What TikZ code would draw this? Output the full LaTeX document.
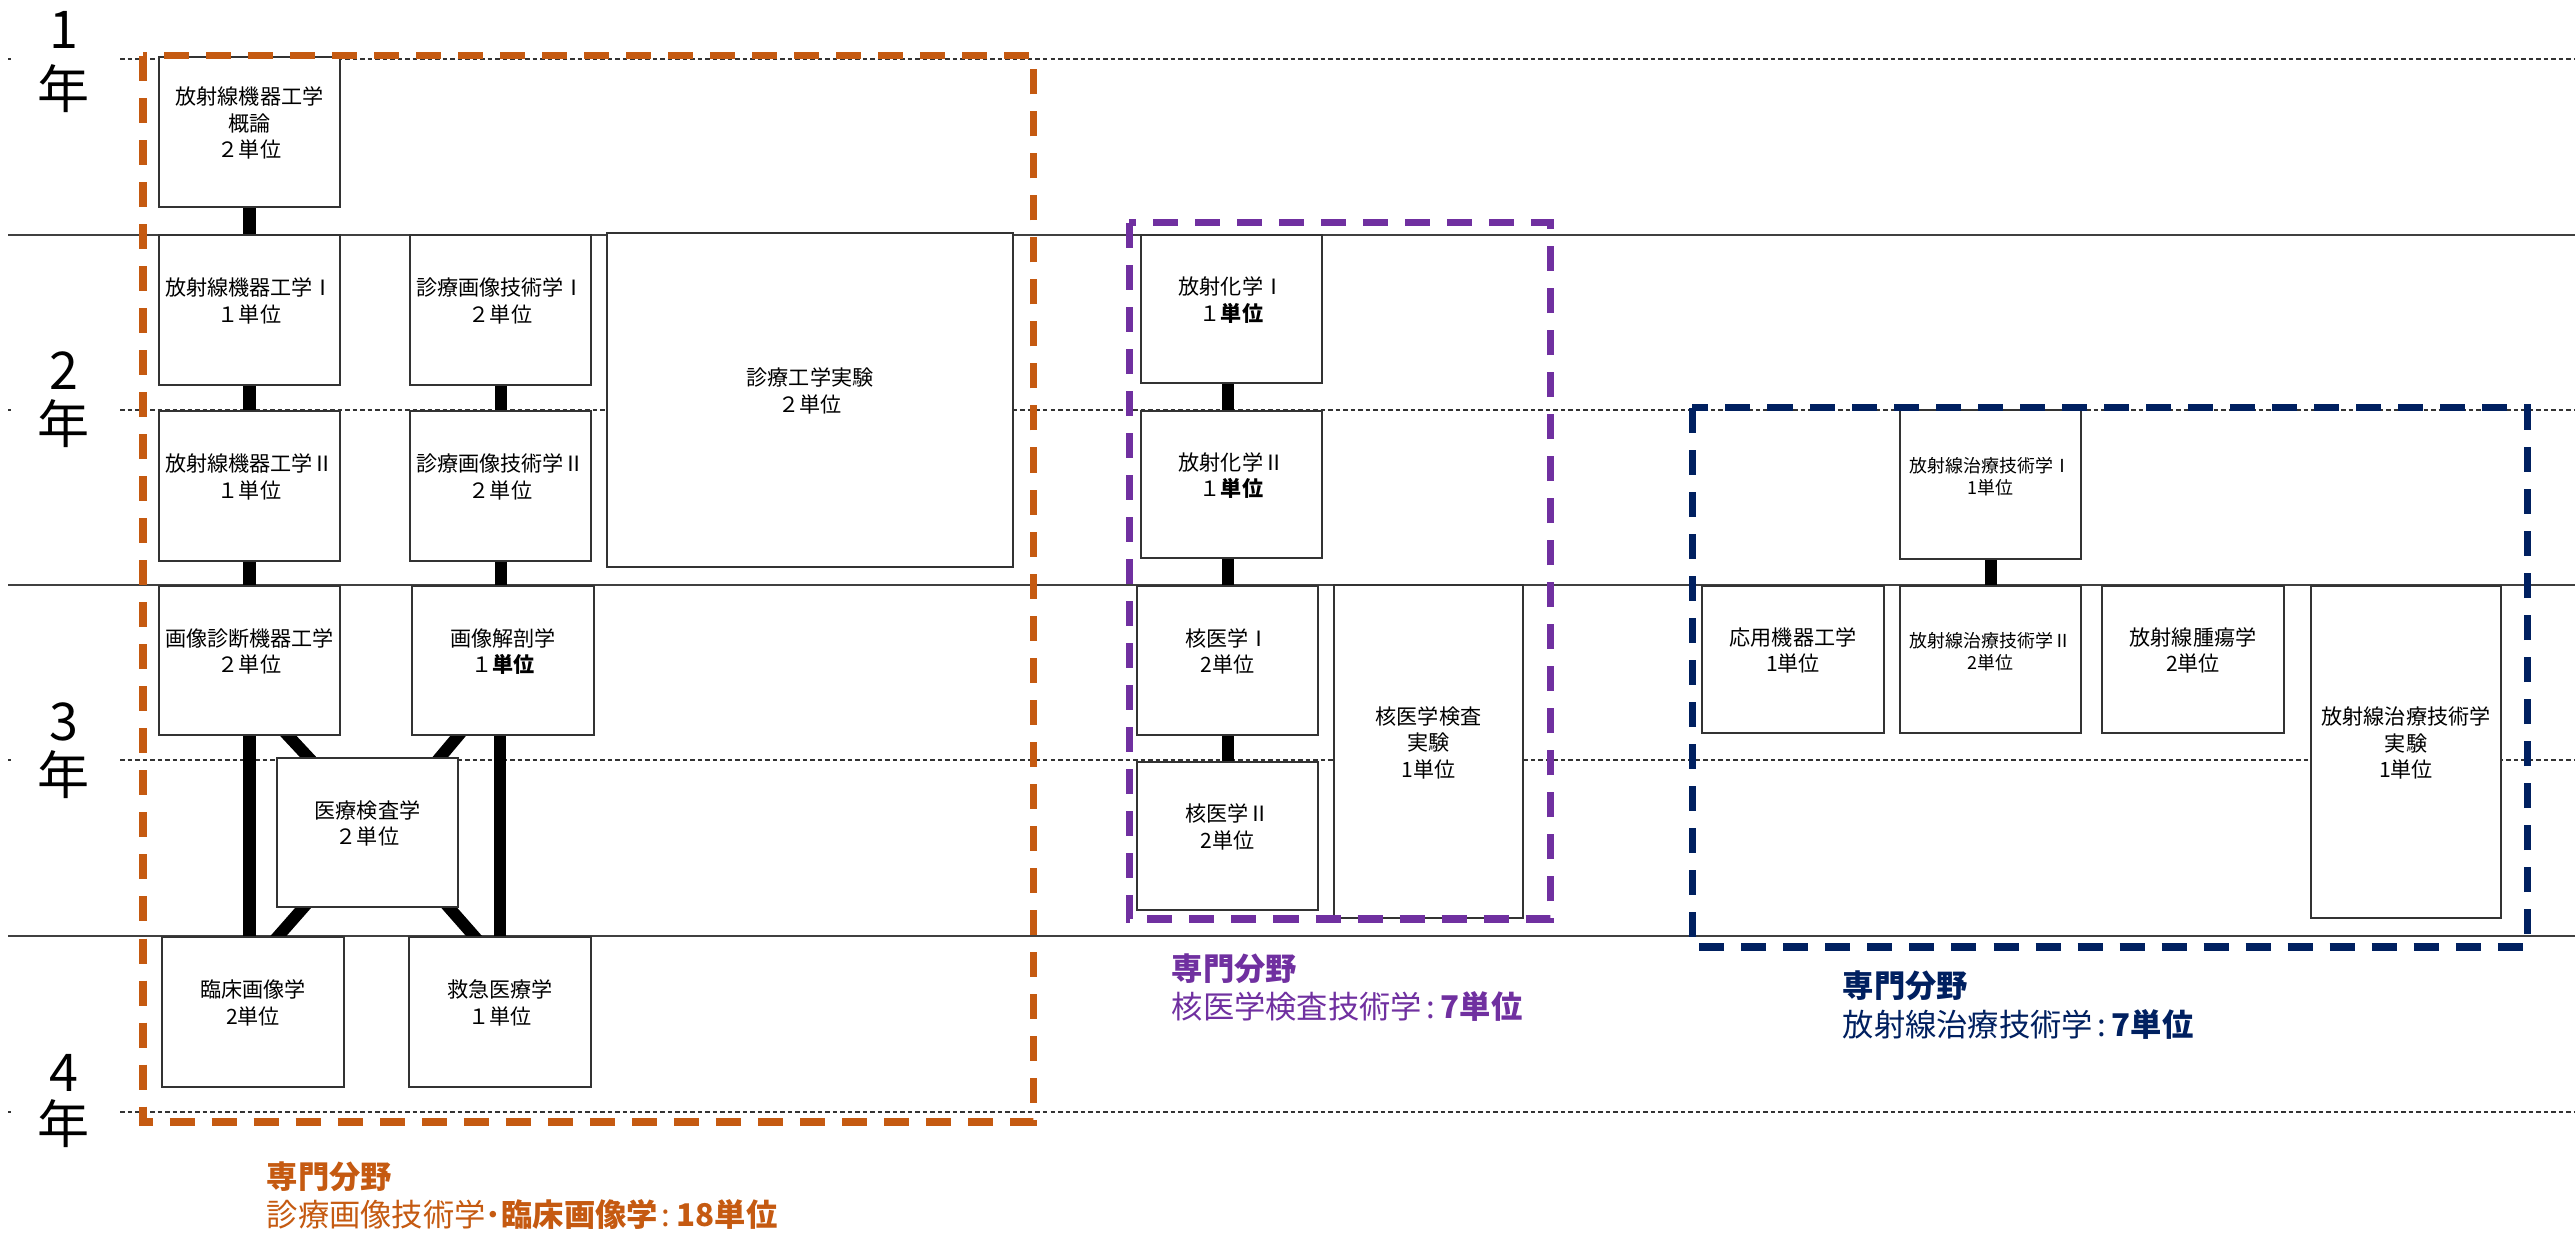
\documentclass[tikz,border=0pt]{standalone}
\usepackage{fontspec}
\setmainfont{Noto Sans CJK JP}
\usetikzlibrary{fit,calc}
\definecolor{cOrange}{HTML}{C55A11}
\definecolor{cPurple}{HTML}{7030A0}
\definecolor{cNavy}{HTML}{002060}
\pgfdeclarelayer{bg}
\pgfdeclarelayer{links}
\pgfsetlayers{bg,links,main}
\newcommand\boxfont{\fontsize{6}{7.55}\selectfont}
\newcommand\smallboxfont{\fontsize{5.1}{6.3}\selectfont}
\newcommand\yearfont{\fontsize{14.8}{17}\selectfont}
\newcommand\grpfont{\fontsize{8.9}{10.5}\selectfont}
\newcommand\gcolon{\hspace{0.04cm}:\hspace{0.06cm}}
\begin{document}
\begin{tikzpicture}[x=0.01cm,y=-0.01cm,
 course/.style={draw=black!80, line width=0.45pt, fill=white, inner sep=0pt, align=center, font=\boxfont},
 smallcourse/.style={course, font=\smallboxfont},
 link/.style={line width=0.12cm, black, shorten <=-0.05cm, shorten >=-0.05cm},
 yearline/.style={black!75, line width=0.45pt},
 halfline/.style={black!80, line width=0.013cm, dash pattern=on 0.045cm off 0.03cm},
 group/.style={line width=0.07cm, dash pattern=on 0.25cm off 0.17cm},
 yearlbl/.style={font=\yearfont, anchor=base, inner sep=0pt},
 grplbl/.style={font=\grpfont, anchor=base west, inner sep=0pt}]
\useasboundingbox (0,0) rectangle (2575,1234);
\begin{pgfonlayer}{bg}
\fill[white] (0,0) rectangle (2575,1234);
\foreach \y in {235,585,936} \draw[yearline] (8,\y) -- (2575,\y);
\foreach \y in {59,410,760,1112} {\draw[halfline] (8,\y) -- (11,\y); \draw[halfline] (120,\y) -- (2575,\y);}
\end{pgfonlayer}
% year labels
\node[yearlbl] (y1n) at (64,49) {1};
\node[yearlbl] (y1k) at (64,109) {年};
\node[yearlbl] (y2n) at (64,390) {2};
\node[yearlbl] (y2k) at (64,444) {年};
\node[yearlbl] (y3n) at (64,741) {3};
\node[yearlbl] (y3k) at (64,795) {年};
\node[yearlbl] (y4n) at (64,1091) {4};
\node[yearlbl] (y4k) at (64,1143) {年};
% orange group courses
\node[course, fit={(159,57) (340,207)}] (A) {放射線機器工学\\概論\\２単位};
\node[course, fit={(159,235) (340,385)}] (B) {放射線機器工学Ⅰ\\１単位};
\node[course, fit={(159,411) (340,561)}] (C) {放射線機器工学Ⅱ\\１単位};
\node[course, fit={(410,235) (591,385)}] (D) {診療画像技術学Ⅰ\\２単位};
\node[course, fit={(410,411) (591,561)}] (E) {診療画像技術学Ⅱ\\２単位};
\node[course, fit={(607,233) (1013,567)}] (F) {診療工学実験\\２単位};
\node[course, fit={(159,586) (340,735)}] (G) {画像診断機器工学\\２単位};
\node[course, fit={(412,586) (594,735)}] (H) {画像解剖学\\１\textbf{単位}};
\node[course, fit={(277,758) (458,907)}] (I) {医療検査学\\２単位};
\node[course, fit={(162,937) (344,1087)}] (J) {臨床画像学\\2単位};
\node[course, fit={(409,937) (591,1087)}] (K) {救急医療学\\１単位};
% purple group courses
\node[course, fit={(1141,235) (1322,383)}] (L) {放射化学Ⅰ\\１\textbf{単位}};
\node[course, fit={(1141,411) (1322,558)}] (M) {放射化学Ⅱ\\１\textbf{単位}};
\node[course, fit={(1137,586) (1318,735)}] (N) {核医学Ⅰ\\2単位};
\node[course, fit={(1137,762) (1318,910)}] (O) {核医学Ⅱ\\2単位};
\node[course, fit={(1334,585) (1523,918)}] (P) {核医学検査\\実験\\1単位};
% navy group courses
\node[smallcourse, fit={(1900,410) (2081,559)}] (Q) {放射線治療技術学Ⅰ\\1単位};
\node[course, fit={(1702,586) (1884,733)}] (R) {応用機器工学\\1単位};
\node[smallcourse, fit={(1900,586) (2081,733)}] (S) {放射線治療技術学Ⅱ\\2単位};
\node[course, fit={(2102,586) (2284,733)}] (T) {放射線腫瘍学\\2単位};
\node[course, fit={(2311,586) (2501,918)}] (U) {放射線治療技術学\\実験\\1単位};
% connectors
\begin{pgfonlayer}{links}
\draw[link] (A.south) -- (B.north);
\draw[link] (B.south) -- (C.north);
\draw[link] (C.south) -- (G.north);
\draw[link] (G.south) -- (G.south |- J.north);
\draw[link] (D.south) -- (E.north);
\draw[link] (E.south) -- (E.south |- H.north);
\draw[link] (K.north |- H.south) -- (K.north);
\draw[link] ($(G.south west)+(130,0)$) -- ($(I.north west)+(32,0)$);
\draw[link] ($(H.south west)+(47,0)$) -- ($(I.north west)+(164,0)$);
\draw[link] ($(I.south west)+(27,0)$) -- ($(J.north west)+(117,0)$);
\draw[link] ($(I.south west)+(173,0)$) -- ($(K.north west)+(66,0)$);
\draw[link] (L.south -| N.north) -- (M.north -| N.north);
\draw[link] (M.south -| N.north) -- (N.north);
\draw[link] (N.south) -- (O.north);
\draw[link] (Q.south) -- (S.north);
\end{pgfonlayer}
% group frames
\draw[group, cOrange] (143,56) rectangle (1033,1122);
\draw[group, cPurple] (1129,223) rectangle (1550,919);
\draw[group, cNavy] (1692,408) rectangle (2527,947);
% group labels
\node[grplbl, text=cOrange] (oL1) at (266,1188) {\textbf{専門分野}};
\node[grplbl, text=cOrange] (oL2) at (266,1226) {診療画像技術学\textbf{･臨床画像学}\gcolon\textbf{18単位}};
\node[grplbl, text=cPurple] (pL1) at (1171,980) {\textbf{専門分野}};
\node[grplbl, text=cPurple] (pL2) at (1171,1018) {核医学検査技術学\gcolon\textbf{7単位}};
\node[grplbl, text=cNavy] (nL1) at (1842,998) {\textbf{専門分野}};
\node[grplbl, text=cNavy] (nL2) at (1842,1036) {放射線治療技術学\gcolon\textbf{7単位}};
\end{tikzpicture}
\end{document}
